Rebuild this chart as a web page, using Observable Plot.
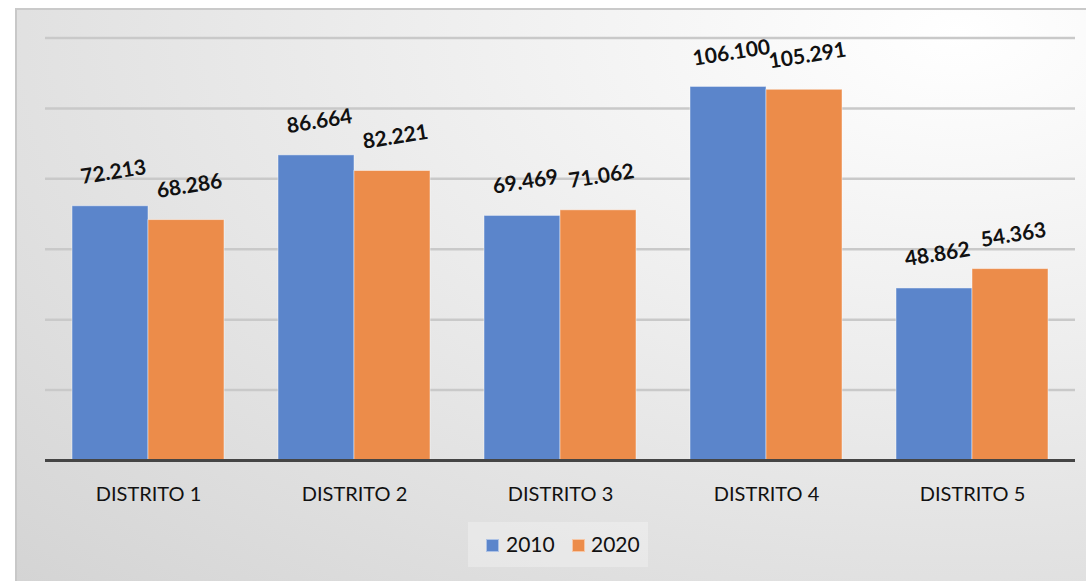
<!DOCTYPE html>
<html>
<head>
<meta charset="utf-8">
<script src="https://cdn.jsdelivr.net/npm/d3@7"></script>
<script src="https://cdn.jsdelivr.net/npm/@observablehq/plot@0.6"></script>
<style>
  html, body { margin: 0; padding: 0; background: #ffffff; }
  #wrap { position: relative; width: 1086px; height: 581px; overflow: hidden; }
  #panel {
    position: absolute; left: 15px; top: 8px; width: 1071px; height: 573px;
    border-left: 2px solid #c8c8c8; border-top: 2px solid #cacaca;
    box-sizing: border-box;
    background: radial-gradient(ellipse farthest-corner at 88% 4%, #ffffff 0%, #ececec 45%, #d4d4d4 100%);
  }
  #chart { position: absolute; left: 0; top: 0; }
  #legend {
    position: absolute; left: 468px; top: 522px; width: 180px; height: 45px;
    background: rgba(255,255,255,0.28);
    font-family: Lato, "Open Sans", sans-serif; font-size: 21px; color: #111;
  }
  .sw { position: absolute; width: 13px; height: 13px; top: 17px; box-sizing: border-box; }
  .lt { position: absolute; top: 10px; line-height: 24px; }
</style>
</head>
<body>
<div id="wrap">
  <div id="panel"></div>
  <div id="chart"></div>
  <div id="legend"></div>
</div>
<script>
const districts = ["DISTRITO 1", "DISTRITO 2", "DISTRITO 3", "DISTRITO 4", "DISTRITO 5"];
const years = ["2010", "2020"];
const values2010 = [72.213, 86.664, 69.469, 106.100, 48.862];
const values2020 = [68.286, 82.221, 71.062, 105.291, 54.363];
const gridTicks = [20, 40, 60, 80, 100, 120];
const colors = ["#5b85cb", "#ec8c4a"];

const data = [];
districts.forEach((d, i) => {
  data.push({district: d, year: years[0], value: values2010[i]});
  data.push({district: d, year: years[1], value: values2020[i]});
});
const fmt = d3.format(".3f");

const chart = Plot.plot({
  width: 1086,
  height: 515,
  marginLeft: 45,
  marginRight: 11,
  marginTop: 37.5,
  marginBottom: 55,
  style: {background: "transparent", fontFamily: "Lato, 'Open Sans', sans-serif", color: "#111"},
  fx: {domain: districts, padding: 0, label: null},
  x: {domain: years, paddingInner: 0, paddingOuter: 0.3377, axis: null},
  y: {domain: [0, 120], axis: null},
  color: {domain: years, range: colors},
  marks: [
    Plot.ruleY(gridTicks, {stroke: "#c9c9c9", strokeWidth: 2.5}),
    Plot.barY(data, {fx: "district", x: "year", y: "value", fill: "year", stroke: "#ffffff", strokeOpacity: 0.45, strokeWidth: 1}),
    Plot.ruleY([0], {stroke: "#454545", strokeWidth: 3.2}),
    Plot.text(data, {fx: "district", x: "year", y: "value", text: d => fmt(d.value),
      dy: -34, dx: 3, rotate: -9, fontWeight: "bold", fontSize: 21, fill: "#111"}),
    Plot.axisFx({anchor: "bottom", tickSize: 0, tickPadding: 26, fontSize: 20, label: null, fill: "#111"})
  ]
});
document.getElementById("chart").appendChild(chart);

const legend = document.getElementById("legend");
const swX = [18, 104];
const txX = [38, 123];
years.forEach((y, i) => {
  const s = document.createElement("div");
  s.className = "sw";
  s.style.left = swX[i] + "px";
  s.style.background = colors[i];
  s.style.border = "1px solid rgba(255,255,255,0.5)";
  legend.appendChild(s);
  const t = document.createElement("div");
  t.className = "lt";
  t.style.left = txX[i] + "px";
  t.textContent = y;
  legend.appendChild(t);
});
</script>
</body>
</html>
